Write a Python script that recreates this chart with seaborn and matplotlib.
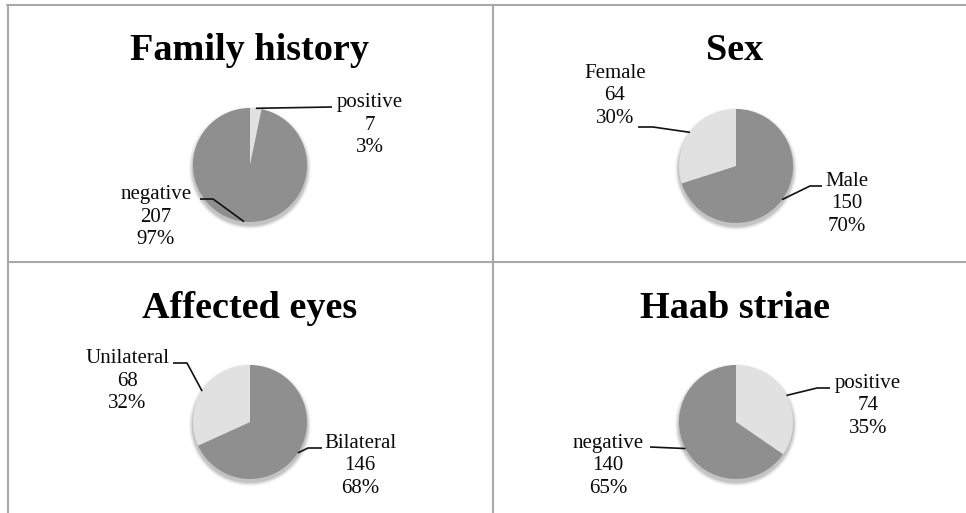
import numpy as np
import matplotlib
matplotlib.use("Agg")
import matplotlib.pyplot as plt
from matplotlib.patches import Circle
import seaborn as sns

# chart data
titles = ["Family history", "Sex", "Affected eyes", "Haab striae"]
fam_labels = ["positive", "negative"]
fam_counts = [7, 207]
sex_labels = ["Male", "Female"]
sex_counts = [150, 64]
eye_labels = ["Bilateral", "Unilateral"]
eye_counts = [146, 68]
haab_labels = ["positive", "negative"]
haab_counts = [74, 140]

sns.set_theme(style="white")
plt.rcParams["font.family"] = ["Liberation Serif", "DejaVu Serif"]

DARK = "#8f8f8f"
LIGHT = "#e1e1e1"

# layout in pixels (y downward): pie centre, slice colours, label centres, leader elbows
panels = [
    dict(center=(250, 165), title_xy=(250, 51), labels=fam_labels, counts=fam_counts,
         colors=[LIGHT, DARK], text_xy=[(370, 125), (156, 217)],
         elbow=[[(332, 107)], [(213, 199), (200, 199)]]),
    dict(center=(736, 166), title_xy=(735, 51), labels=sex_labels, counts=sex_counts,
         colors=[DARK, LIGHT], text_xy=[(847, 204), (615, 96)],
         elbow=[[(810, 186), (822, 186)], [(653, 127), (638, 127)]]),
    dict(center=(250, 422), title_xy=(250, 309), labels=eye_labels, counts=eye_counts,
         colors=[DARK, LIGHT], text_xy=[(360, 466), (127, 381)],
         elbow=[[(308, 448), (322, 448)], [(187, 363), (173, 363)]]),
    dict(center=(736, 422), title_xy=(735, 309), labels=haab_labels, counts=haab_counts,
         colors=[LIGHT, DARK], text_xy=[(868, 406), (608, 466)],
         elbow=[[(817, 388), (830, 388)], [(650, 447)]]),
]
R = 57

fig = plt.figure(figsize=(9.66, 5.13), dpi=100)
ax = fig.add_axes([0, 0, 1, 1])

for title, p in zip(titles, panels):
    cx, cy = p["center"]
    # soft shadow under the pie
    for k, a in [(4, 0.04), (3, 0.05), (2, 0.07), (1, 0.09)]:
        ax.add_patch(Circle((cx, cy + 3), R + k, color="#000000", alpha=a, lw=0, zorder=1))
    wedges, _ = ax.pie(p["counts"], colors=p["colors"], center=(cx, cy), radius=R,
                       startangle=-90, counterclock=True,
                       wedgeprops=dict(linewidth=0))
    for w in wedges:
        w.set_zorder(2)
    total = sum(p["counts"])
    for w, lab, cnt, (tx, ty), elb in zip(wedges, p["labels"], p["counts"],
                                          p["text_xy"], p["elbow"]):
        mid = np.deg2rad((w.theta1 + w.theta2) / 2)
        px, py = cx + R * np.cos(mid), cy + R * np.sin(mid)
        xs = [px] + [e[0] for e in elb]
        ys = [py] + [e[1] for e in elb]
        ax.plot(xs, ys, color="#111111", lw=1.2, zorder=3, solid_capstyle="butt")
        pct = round(100 * cnt / total)
        ax.text(tx, ty, f"{lab}\n{cnt}\n{pct}%", ha="center", va="center",
                fontsize=15, linespacing=1.27, color="#0a0a0a", zorder=4)
    ax.text(p["title_xy"][0], p["title_xy"][1], title, ha="center", va="center",
            fontsize=27.5, fontweight="bold", color="black")

# panel borders
bc = "#a8a8a8"
ax.plot([7, 966], [5, 5], color=bc, lw=1.5)
ax.plot([8, 8], [5, 513], color=bc, lw=1.5)
ax.plot([492.5, 492.5], [5, 513], color=bc, lw=1.5)
ax.plot([8, 966], [261.5, 261.5], color=bc, lw=1.5)

ax.set_xlim(0, 966)
ax.set_ylim(513, 0)
ax.set_aspect("auto")
ax.axis("off")

fig.savefig("out.png", dpi=100)
